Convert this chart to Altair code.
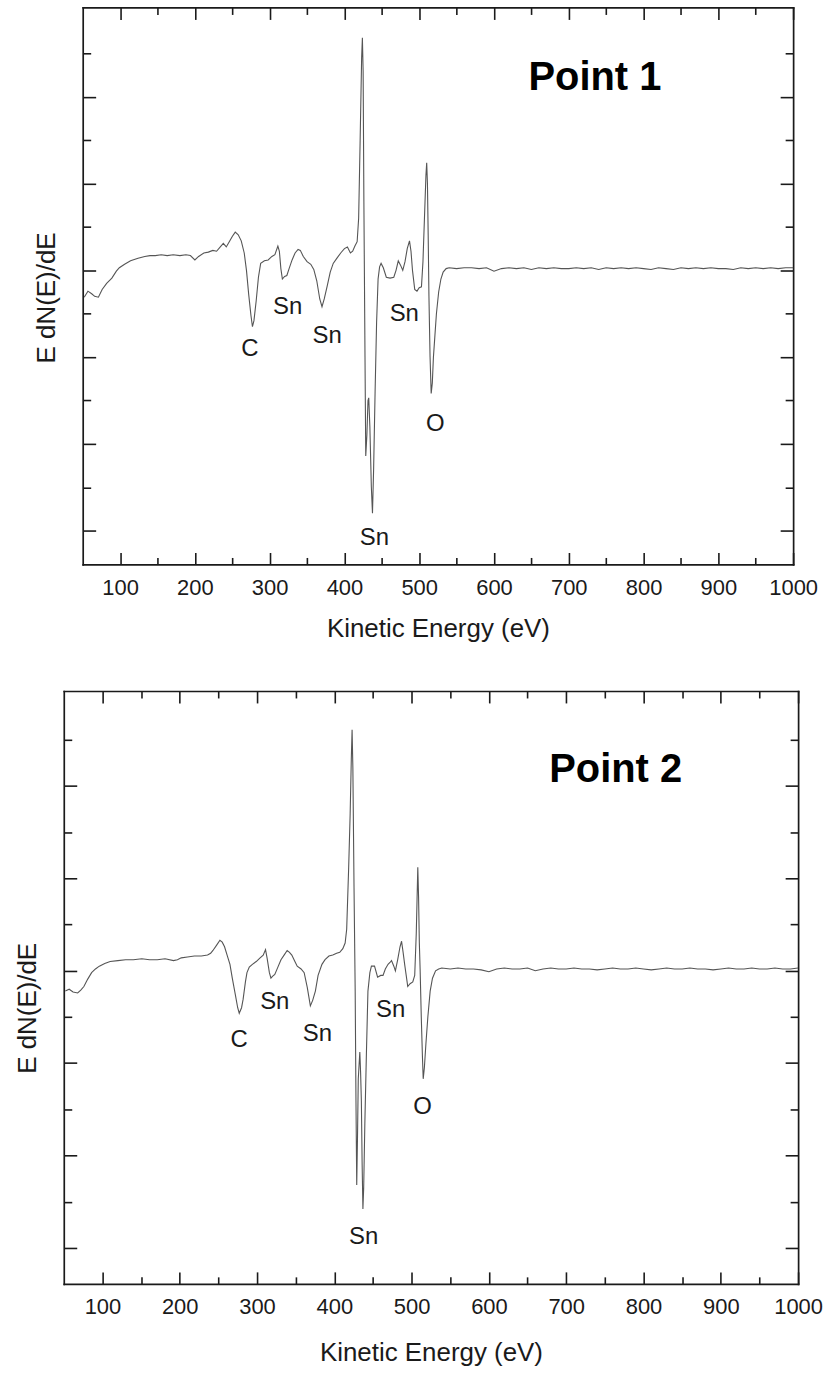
import altair as alt
import pandas as pd

FONT = "Liberation Sans"

# ---------------- Panel 1 spectrum (Point 1) ----------------
E1 = [52, 57, 62, 66, 71, 76, 82, 89, 95, 99, 106, 114, 124, 133, 140, 147, 155, 163, 171, 180,
      188, 194, 200, 205, 212, 218, 224, 229, 234, 238, 242, 246, 250, 254, 258, 262, 266, 269, 272, 275,
      277, 279, 282, 285, 288, 293, 298, 303, 307, 311, 313, 315, 317, 320, 323, 326, 330, 334, 338, 341,
      345, 350, 355, 359, 363, 367, 370, 373, 377, 381, 385, 390, 395, 400, 404, 408, 411, 414, 417, 419,
      421, 423, 424, 425, 426, 427.5, 428.5, 430, 431.5, 432.5, 434, 436, 437.5, 439, 441, 443, 445, 447, 449, 452,
      456, 461, 466, 469, 472, 475, 478, 481, 484, 487, 489, 491, 494, 497, 500, 503, 505, 507, 509, 510,
      511, 512, 513, 514.5, 516, 517.5, 519, 521, 523, 526, 529, 532, 536, 540,
      550, 560, 570, 580, 590, 600, 610, 620, 630, 640, 650, 660, 670, 680, 690, 700, 710, 720, 730, 740,
      750, 760, 770, 780, 790, 800, 810, 820, 830, 840, 850, 860, 870, 880, 890, 900, 910, 920, 930, 940,
      950, 960, 970, 980, 990, 1000]
V1 = [-0.31, -0.24, -0.27, -0.30, -0.31, -0.22, -0.15, -0.09, -0.01, 0.03, 0.07, 0.11, 0.14, 0.16, 0.17, 0.17, 0.18, 0.17, 0.18, 0.17,
      0.18, 0.17, 0.12, 0.16, 0.20, 0.21, 0.23, 0.22, 0.27, 0.31, 0.27, 0.33, 0.39, 0.44, 0.41, 0.34, 0.20, 0.00, -0.28, -0.52,
      -0.65, -0.58, -0.35, -0.08, 0.08, 0.11, 0.12, 0.16, 0.18, 0.28, 0.22, 0.02, -0.10, -0.07, -0.06, 0.02, 0.12, 0.20, 0.24, 0.23,
      0.16, 0.10, 0.07, 0.01, -0.12, -0.33, -0.42, -0.33, -0.18, -0.02, 0.08, 0.14, 0.20, 0.25, 0.27, 0.20, 0.22, 0.28, 0.33, 0.60,
      1.50, 2.45, 2.68, 2.30, 0.80, -1.00, -2.14, -1.90, -1.50, -1.47, -1.80, -2.50, -2.80, -2.30, -1.40, -0.60, -0.10, 0.04, 0.08, 0.03,
      -0.08, -0.09, -0.08, 0.00, 0.11, 0.06, 0.00, 0.10, 0.25, 0.34, 0.22, 0.00, -0.22, -0.24, -0.20, -0.19, 0.10, 0.60, 1.10, 1.24,
      1.00, 0.40, -0.30, -1.00, -1.42, -1.30, -1.00, -0.75, -0.50, -0.25, -0.10, -0.02, 0.02, 0.03,
      0.02, 0.03, 0.03, 0.02, 0.03, -0.01, 0.02, 0.03, 0.02, 0.03, 0.01, 0.03, 0.02, 0.03, 0.02, 0.02, 0.03, 0.02, 0.03, 0.01,
      0.03, 0.02, 0.03, 0.02, 0.03, 0.02, 0.01, 0.03, 0.02, 0.01, 0.03, 0.02, 0.03, 0.02, 0.03, 0.02, 0.02, 0.01, 0.03, 0.02,
      0.03, 0.02, 0.03, 0.02, 0.03, 0.03]

# ---------------- Panel 2 spectrum (Point 2) ----------------
E2 = [52, 57, 62, 68, 72, 76, 81, 86, 91, 96, 103, 110, 120, 130, 140, 151, 161, 171, 181, 192,
      197, 202, 210, 219, 228, 236, 240, 243, 248, 252, 255, 258, 262, 265, 268, 272, 275, 277, 280, 282,
      285, 287, 290, 294, 299, 304, 308, 311, 313, 316, 318, 320, 323, 327, 331, 335, 339, 342, 345, 349,
      352, 357, 361, 365, 369, 372, 375.5, 379, 384, 388, 393, 398, 403, 407, 411, 414, 416, 418.5, 420.5, 422,
      423, 424, 425.5, 427, 428, 429, 430, 431, 433, 434, 435, 436, 437, 438, 439.5, 441.5, 443.5, 446, 448, 452,
      456, 460, 463, 466, 469.5, 472, 474, 477, 479, 482, 485, 487, 489, 491, 493, 495, 498, 501.5, 504, 506,
      508, 509, 510, 511, 512.5, 514, 515, 516.5, 518.5, 521, 524, 527, 531, 535, 539,
      550, 560, 570, 580, 590, 600, 610, 620, 630, 640, 650, 660, 670, 680, 690, 700, 710, 720, 730, 740,
      750, 760, 770, 780, 790, 800, 810, 820, 830, 840, 850, 860, 870, 880, 890, 900, 910, 920, 930, 940,
      950, 960, 970, 980, 990, 1000]
V2 = [-0.22, -0.20, -0.23, -0.24, -0.21, -0.17, -0.09, -0.02, 0.02, 0.05, 0.08, 0.10, 0.11, 0.12, 0.12, 0.13, 0.12, 0.12, 0.13, 0.11,
      0.12, 0.14, 0.15, 0.16, 0.16, 0.17, 0.19, 0.22, 0.28, 0.33, 0.31, 0.26, 0.15, 0.07, -0.08, -0.26, -0.40, -0.46, -0.40, -0.31,
      -0.12, -0.02, 0.04, 0.07, 0.10, 0.14, 0.17, 0.23, 0.14, -0.02, -0.08, -0.06, -0.04, 0.04, 0.12, 0.17, 0.22, 0.20, 0.17, 0.10,
      0.05, 0.02, -0.02, -0.18, -0.38, -0.32, -0.22, -0.05, 0.07, 0.12, 0.16, 0.17, 0.19, 0.20, 0.24, 0.30, 0.45, 1.10, 1.70, 2.30,
      2.61, 2.20, 0.90, -0.22, -1.40, -2.32, -1.80, -1.17, -0.88, -1.10, -1.41, -2.10, -2.58, -2.35, -1.65, -0.90, -0.22, -0.02, 0.05, 0.05,
      -0.07, -0.05, -0.05, 0.02, 0.07, 0.09, 0.11, 0.05, 0.00, 0.12, 0.26, 0.32, 0.20, 0.07, -0.05, -0.17, -0.14, -0.12, -0.05, 0.40,
      1.12, 0.80, 0.30, 0.02, -0.50, -0.93, -1.17, -1.05, -0.79, -0.50, -0.22, -0.08, 0.00, 0.02, 0.03,
      0.02, 0.03, 0.02, 0.02, 0.01, -0.01, 0.02, 0.03, 0.02, 0.02, 0.03, 0.00, 0.02, 0.03, 0.02, 0.02, 0.03, 0.02, 0.02, 0.01,
      0.02, 0.03, 0.02, 0.02, 0.03, 0.02, 0.01, 0.02, 0.03, 0.02, 0.02, 0.03, 0.02, 0.02, 0.01, 0.02, 0.03, 0.02, 0.02, 0.03,
      0.02, 0.02, 0.03, 0.02, 0.02, 0.03]

# ---------------- Peak annotations ----------------
LBL1_TEXT = ["C", "Sn", "Sn", "Sn", "O", "Sn"]
LBL1_E = [273.5, 324, 377, 480, 521.5, 440]
LBL1_V = [-0.91, -0.42, -0.76, -0.50, -1.77, -3.08]

LBL2_TEXT = ["C", "Sn", "Sn", "Sn", "O", "Sn"]
LBL2_E = [277, 323, 378, 473, 514, 438]
LBL2_V = [-0.75, -0.34, -0.69, -0.43, -1.48, -2.88]

POINT_TEXT = ["Point 1", "Point 2"]
POINT_E = [735, 764]
POINT_V = [2.22, 2.17]

# ---------------- Axis tick values ----------------
X_MAJOR = [100, 200, 300, 400, 500, 600, 700, 800, 900, 1000]
X_MINOR = [150, 250, 350, 450, 550, 650, 750, 850, 950]
Y_MAJOR = [-3, -2, -1, 0, 1, 2]
Y_MINOR = [-2.5, -1.5, -0.5, 0.5, 1.5, 2.5]

X_DOMAIN = [50, 1000]
Y_DOMAIN = [-3.39, 3.03]

INK = "#1a1a1a"


def panel(E, V, lt, le, lv, pt, pe, pv, x0, w, h, ytitle_y, xtitle_pad):
    """x0: left inset of the plot frame inside the view (pixels); w: frame width."""
    assert len(E) == len(V)
    df = pd.DataFrame({"E": E, "V": V})
    xs = alt.Scale(domain=X_DOMAIN, nice=False, zero=False, range=[x0, x0 + w])
    ys = alt.Scale(domain=Y_DOMAIN, nice=False, zero=False)
    tick_style = dict(domain=False, grid=False, tickColor=INK, tickWidth=1.6, labels=False)
    dom_style = dict(domain=True, domainColor=INK, domainWidth=1.7, domainCap="square",
                     grid=False, ticks=False, labels=False)

    def ax(orient, values, size, inset=0, **kw):
        style = dict(tick_style)
        style.update(kw)
        return alt.Axis(orient=orient, values=values, tickSize=size, offset=-(size + inset), **style)

    x_bottom = ax("bottom", X_MAJOR, 12, labels=True, format="d", labelFont=FONT, labelFontSize=22,
                  labelColor=INK, labelPadding=13, labelFlush=False, labelOverlap=False,
                  title="Kinetic Energy (eV)", titleFont=FONT, titleFontSize=26,
                  titleFontWeight="normal", titleColor=INK, titlePadding=xtitle_pad)
    y_left = ax("left", Y_MAJOR, 13, inset=x0, title="E dN(E)/dE", titleFont=FONT, titleFontSize=26,
                titleFontWeight="normal", titleColor=INK, titlePadding=23, titleY=ytitle_y)

    def carrier(xaxis, yaxis):
        return alt.Chart(df).mark_line(strokeOpacity=0).encode(
            x=alt.X("E:Q", scale=xs, axis=xaxis),
            y=alt.Y("V:Q", scale=ys, axis=yaxis),
        )

    line = alt.Chart(df).mark_line(color="#555555", strokeWidth=1.1).encode(
        x=alt.X("E:Q", scale=xs, axis=x_bottom),
        y=alt.Y("V:Q", scale=ys, axis=y_left),
    )
    minor_bl = carrier(ax("bottom", X_MINOR, 7, title=None), ax("left", Y_MINOR, 8, inset=x0, title=None))
    major_tr = carrier(ax("top", X_MAJOR, 12, title=None), ax("right", Y_MAJOR, 13, title=None))
    minor_tr = carrier(ax("top", X_MINOR, 7, title=None), ax("right", Y_MINOR, 8, title=None))
    frame_bl = carrier(alt.Axis(orient="bottom", offset=0, title=None, **dom_style),
                       alt.Axis(orient="left", offset=-x0, title=None, **dom_style))
    frame_tr = carrier(alt.Axis(orient="top", offset=0, title=None, **dom_style),
                       alt.Axis(orient="right", offset=0, title=None, **dom_style))

    ldf = pd.DataFrame({"E": le, "V": lv, "T": lt})
    labels = alt.Chart(ldf).mark_text(font=FONT, fontSize=24, color=INK).encode(
        x=alt.X("E:Q", scale=xs, axis=None),
        y=alt.Y("V:Q", scale=ys, axis=None),
        text="T:N",
    )
    pdf = pd.DataFrame({"E": [pe], "V": [pv], "T": [pt]})
    point = alt.Chart(pdf).mark_text(font=FONT, fontSize=40, fontWeight="bold", color="#000000").encode(
        x=alt.X("E:Q", scale=xs, axis=None),
        y=alt.Y("V:Q", scale=ys, axis=None),
        text="T:N",
    )
    return alt.layer(line, minor_bl, major_tr, minor_tr, frame_bl, frame_tr, labels, point).resolve_axis(
        x="independent", y="independent"
    ).properties(width=x0 + w, height=h)


p1 = panel(E1, V1, LBL1_TEXT, LBL1_E, LBL1_V, POINT_TEXT[0], POINT_E[0], POINT_V[0], 19, 713, 559, 291, 17)
p2 = panel(E2, V2, LBL2_TEXT, LBL2_E, LBL2_V, POINT_TEXT[1], POINT_E[1], POINT_V[1], 0, 737, 595, 318, 22)

chart = alt.vconcat(p1, p2, spacing=49).properties(
    padding={"left": 14, "top": 4, "right": 5, "bottom": 5},
    background="white",
).configure_view(strokeWidth=0)

chart.save("out.html", embed_options={"renderer": "svg", "actions": False})
